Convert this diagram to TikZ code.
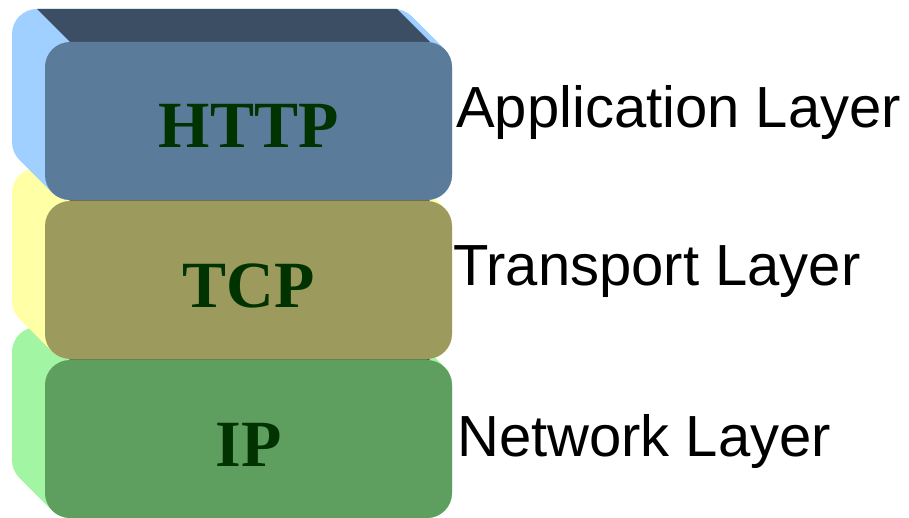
\documentclass[tikz,border=0pt]{standalone}
\usepackage{fontspec}
\setmainfont{Liberation Serif}
\setsansfont{Liberation Sans}

\definecolor{httpFront}{HTML}{5B7B9A}
\definecolor{httpTop}{HTML}{3C4E64}
\definecolor{httpSide}{HTML}{A0D0FF}
\definecolor{tcpFront}{HTML}{9C9A5C}
\definecolor{tcpTop}{HTML}{6E6C40}
\definecolor{tcpSide}{HTML}{FFFFA6}
\definecolor{ipFront}{HTML}{5E9E5E}
\definecolor{ipTop}{HTML}{3F6E3F}
\definecolor{ipSide}{HTML}{A2F5A2}
\definecolor{protoInk}{HTML}{003300}

\tikzset{
  frontface/.style={rectangle, rounded corners=25pt, minimum width=407pt,
    minimum height=158pt, inner sep=0pt},
  prototext/.style={anchor=base, inner sep=0pt, text=protoInk,
    font=\rmfamily\bfseries\fontsize{66}{66}\selectfont},
  layerlabel/.style={anchor=base west, inner sep=0pt,
    font=\sffamily\fontsize{58}{58}\selectfont},
}

% One extruded block of the stack:
% #1 name, #2 top of front face, #3 side colour, #4 top-face colour,
% #5 front colour, #6 protocol, #7 layer label, #8 label x, #9 label baseline
\newcommand\stacklayer[9]{%
  % side walls: sweep the rounded outline from the back face to the front
  \foreach \d in {0,...,33}{
    \fill[#3, rounded corners=25pt] (12+\d, #2-33+\d) rectangle ++(407,158);
  }
  % darker top face
  \fill[#4] (37,#2-33) -- (397,#2-33) -- (430,#2) -- (70,#2) -- cycle;
  % front face and its texts
  \node[frontface, fill=#5] (#1) at (248.5,#2+79) {};
  \node[prototext] (#1-text) at (248.5,#2+106) {#6};
  \node[layerlabel] (#1-label) at (#8,#9) {#7};
}

\begin{document}
\begin{tikzpicture}[x=1pt,y=-1pt]
  \useasboundingbox (0,0) rectangle (909,518);
  \stacklayer{ip}{360}{ipSide}{ipTop}{ipFront}{IP}{Network Layer}{457}{456}
  \stacklayer{tcp}{201}{tcpSide}{tcpTop}{tcpFront}{TCP}{Transport Layer}{453}{286}
  \stacklayer{http}{42}{httpSide}{httpTop}{httpFront}{HTTP}{Application Layer}{456}{128}
\end{tikzpicture}
\end{document}
